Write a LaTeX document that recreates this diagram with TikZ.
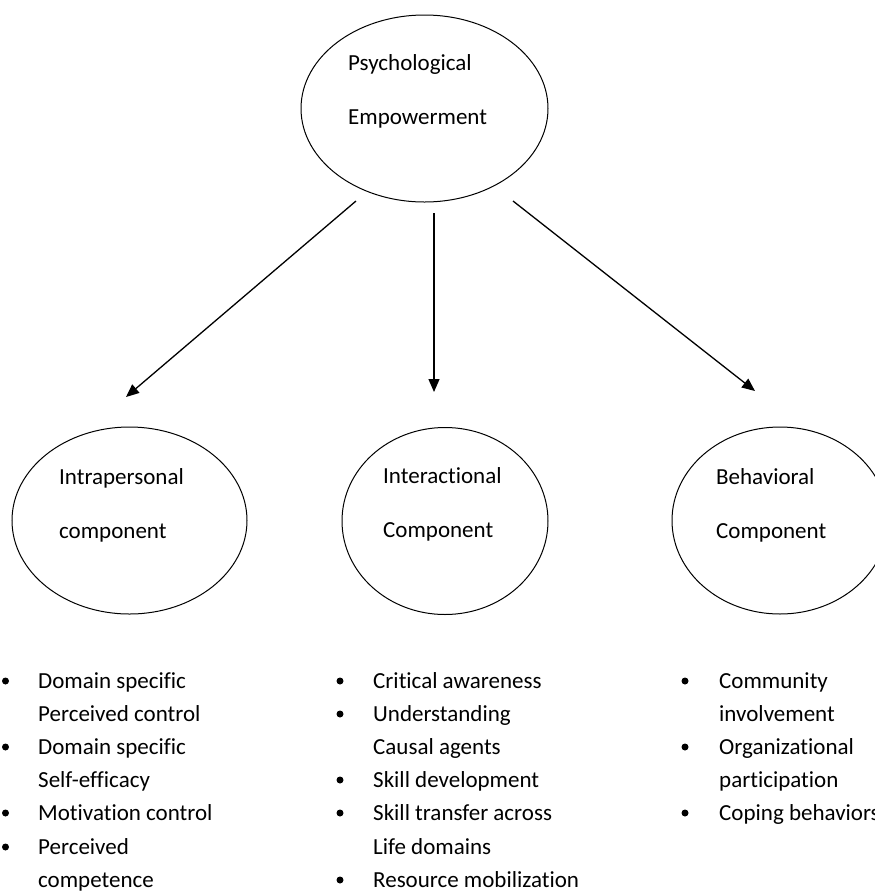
\documentclass[tikz,border=0pt]{standalone}
\usepackage{fontspec}
\setmainfont{Carlito}[Ligatures=NoCommon]
\usetikzlibrary{shapes.geometric,arrows.meta}
\tikzset{
  oval/.style={draw, ellipse, line width=1pt, inner sep=0pt},
  lbl/.style={anchor=base west, inner sep=0pt, font=\fontsize{23}{28}\selectfont},
  dotb/.style={circle, fill, inner sep=0pt, minimum size=7pt},
  arr/.style={line width=1.3pt, -{Triangle[length=13pt,width=11pt]}}
}
\begin{document}
\begin{tikzpicture}[x=1pt,y=-1pt]
\useasboundingbox (0,0) rectangle (875,892);
\clip (0,0) rectangle (875,892);
\fill[white] (0,0) rectangle (875,892);

% ellipses
\node[oval, minimum width=247pt, minimum height=187pt] (pe) at (424.5,108.5) {};
\node[oval, minimum width=235pt, minimum height=187pt] (intra) at (129.5,520.5) {};
\node[oval, minimum width=206pt, minimum height=187pt] (inter) at (445,521) {};
\node[oval, minimum width=216pt, minimum height=187pt] (beh) at (780,520.5) {};

% ellipse texts
\node[lbl] (t1) at (348,70) {Psychological};
\node[lbl] (t2) at (348,124) {Empowerment};
\node[lbl] (t3) at (59,484) {Intrapersonal};
\node[lbl] (t4) at (59,538) {component};
\node[lbl] (t5) at (383,483) {Interactional};
\node[lbl] (t6) at (383,537) {Component};
\node[lbl] (t7) at (716,484) {Behavioral};
\node[lbl] (t8) at (716,538) {Component};

% arrows
\coordinate (a1s) at (356,201);
\coordinate (a1e) at (126,397);
\coordinate (a2s) at (434,213);
\coordinate (a2e) at (434,392);
\coordinate (a3s) at (513,201);
\coordinate (a3e) at (755,391);
\draw[arr] (a1s) -- (a1e);
\draw[arr] (a2s) -- (a2e);
\draw[arr] (a3s) -- (a3e);

% left list
\node[dotb] (lb1) at (5.5,681) {};
\node[dotb] (lb2) at (5.5,747) {};
\node[dotb] (lb3) at (5.5,813) {};
\node[dotb] (lb4) at (5.5,847) {};
\node[lbl] (l1) at (38,688) {Domain specific};
\node[lbl] (l2) at (38,721) {Perceived control};
\node[lbl] (l3) at (38,754) {Domain specific};
\node[lbl] (l4) at (38,787) {Self-efficacy};
\node[lbl] (l5) at (38,820) {Motivation control};
\node[lbl] (l6) at (38,854) {Perceived};
\node[lbl] (l7) at (38,887) {competence};

% middle list
\node[dotb] (mb1) at (340,681) {};
\node[dotb] (mb2) at (340,714) {};
\node[dotb] (mb3) at (340,780) {};
\node[dotb] (mb4) at (340,813) {};
\node[dotb] (mb5) at (340,880) {};
\node[lbl] (m1) at (373,688) {Critical awareness};
\node[lbl] (m2) at (373,721) {Understanding};
\node[lbl] (m3) at (373,754) {Causal agents};
\node[lbl] (m4) at (373,787) {Skill development};
\node[lbl] (m5) at (373,820) {Skill transfer across};
\node[lbl] (m6) at (373,854) {Life domains};
\node[lbl] (m7) at (373,887) {Resource mobilization};

% right list
\node[dotb] (rb1) at (685,681) {};
\node[dotb] (rb2) at (685,747) {};
\node[dotb] (rb3) at (685,813) {};
\node[lbl] (r1) at (719,688) {Community};
\node[lbl] (r2) at (719,721) {involvement};
\node[lbl] (r3) at (719,754) {Organizational};
\node[lbl] (r4) at (719,787) {participation};
\node[lbl] (r5) at (719,820) {Coping behaviors};
\end{tikzpicture}
\end{document}
